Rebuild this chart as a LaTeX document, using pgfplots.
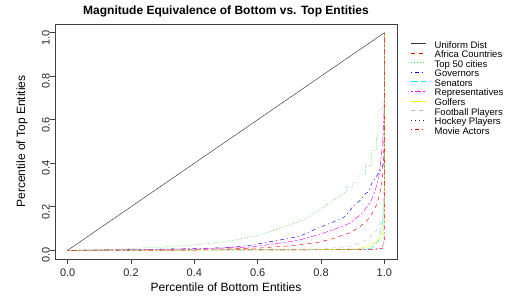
\documentclass[border=0pt]{standalone}
\usepackage{fontspec}
\setmainfont{Liberation Sans}
\usepackage{pgfplots}
\pgfplotsset{compat=1.18}
\definecolor{Rred}{HTML}{FF0000}
\definecolor{Rgreen}{HTML}{33D633}
\definecolor{Rblue}{HTML}{0000FF}
\definecolor{Rcyan}{HTML}{00FFFF}
\definecolor{Rmagenta}{HTML}{FF00FF}
\definecolor{Ryellow}{HTML}{FFFF00}
\definecolor{Rgray}{HTML}{BEBEBE}
\definecolor{Rblack}{HTML}{333333}
\begin{document}
\begin{tikzpicture}[x=1pt,y=1pt]
\path[use as bounding box] (0,0) rectangle (512,301);
\begin{axis}[
  at={(55pt,42pt)}, anchor=south west,
  scale only axis, width=342pt, height=235pt,
  xmin=-0.04, xmax=1.04, ymin=-0.04, ymax=1.04,
  axis line style={black!75, line width=0.6pt},
  xtick={0,0.2,0.4,0.6,0.8,1.0},
  ytick={0,0.2,0.4,0.6,0.8,1.0},
  xtick pos=left, ytick pos=left,
  tick align=outside,
  major tick length=5pt,
  tick style={black!75, line width=0.6pt},
  /pgf/number format/assume math mode=true,
  /pgf/number format/.cd, fixed, fixed zerofill, precision=1, /pgfplots/.cd,
  ticklabel style={font=\fontsize{11}{13}\selectfont, text=black!85},
  xticklabel style={anchor=north, inner sep=0pt, yshift=-5pt},
  yticklabel style={rotate=90, anchor=south, inner sep=0pt, xshift=-5pt},
  title={Magnitude Equivalence of Bottom vs. Top Entities},
  title style={font=\bfseries\fontsize{12}{14}\selectfont, at={(0.5,1.03)}, anchor=center, yshift=0pt},
  xlabel={Percentile of Bottom Entities},
  ylabel={Percentile of Top Entities},
  xlabel style={font=\fontsize{12}{14}\selectfont, at={(0.5,-0.119)}, anchor=center},
  ylabel style={font=\fontsize{12}{14}\selectfont, at={(-0.0965,0.5)}, anchor=center},
  legend style={at={(1.032,0.936)}, anchor=north west, draw=none, fill=none,
    font=\fontsize{9.5}{9.55}\selectfont, row sep=0pt, column sep=8pt,
    nodes={inner sep=0pt, text height=7pt, text depth=2.55pt}},
  legend cell align=left,
  legend image code/.code={\draw[#1, line width=0.55pt] (0pt,2.5pt) -- (15pt,2.5pt);},
  every axis plot/.append style={line width=0.45pt},
]
% Uniform Dist
\addplot[color=Rblack, solid] coordinates {(0,0) (1,1)};
\addlegendentry{Uniform Dist}
% Africa Countries
\addplot[color=Rred, dash pattern=on 4pt off 4pt] coordinates {
(0,0) (0.2,0.001) (0.4,0.003) (0.6,0.01) (0.7,0.02) (0.787,0.035) (0.839,0.054)
(0.89,0.08) (0.92,0.105) (0.945,0.135) (0.966,0.18) (0.977,0.215) (0.987,0.27)
(0.993,0.32) (0.998,0.45) (1,0.6) (1,1)};
\addlegendentry{Africa Countries}
% Top 50 cities
\addplot[color=Rgreen, dash pattern=on 1pt off 2pt] coordinates {
(0,0) (0.1,0.003) (0.2,0.008) (0.3,0.015) (0.4,0.025) (0.5,0.04) (0.6,0.068)
(0.7,0.115) (0.75,0.145) (0.8,0.19) (0.84,0.23) (0.86,0.25) (0.88,0.27)
(0.88,0.29) (0.9,0.29) (0.9,0.31) (0.92,0.31) (0.92,0.35) (0.94,0.35) (0.94,0.39)
(0.96,0.39) (0.96,0.46) (0.975,0.46) (0.975,0.52) (0.98,0.52) (0.98,0.64)
(0.997,0.66) (1,0.67) (1,1)};
\addlegendentry{Top 50 cities}
% Governors
\addplot[color=Rblue, dash pattern=on 1pt off 3pt on 4pt off 3pt] coordinates {
(0,0) (0.2,0.003) (0.4,0.008) (0.5,0.012) (0.576,0.023) (0.68,0.05) (0.734,0.065)
(0.787,0.1) (0.83,0.125) (0.871,0.15) (0.885,0.17) (0.9,0.2) (0.924,0.23) (0.94,0.26)
(0.95,0.27) (0.961,0.31) (0.975,0.34) (0.985,0.36) (0.998,0.40) (1,0.45) (1,1)};
\addlegendentry{Governors}
% Senators
\addplot[color=Rcyan, dash pattern=on 7pt off 3pt] coordinates {
(0,0) (0.9,0.003) (0.96,0.01) (0.98,0.04) (0.987,0.078) (0.998,0.154) (1,0.3) (1,1)};
\addlegendentry{Senators}
% Representatives
\addplot[color=Rmagenta, dash pattern=on 2pt off 2pt on 6pt off 2pt] coordinates {
(0,0) (0.2,0.002) (0.4,0.006) (0.576,0.015) (0.68,0.035) (0.734,0.048) (0.787,0.07)
(0.84,0.095) (0.892,0.125) (0.93,0.17) (0.956,0.22) (0.97,0.27) (0.982,0.33)
(0.99,0.43) (0.995,0.5) (0.998,0.6) (1,0.7) (1,1)};
\addlegendentry{Representatives}
% Golfers
\addplot[color=Ryellow, solid] coordinates {
(0,0) (0.9,0.003) (0.956,0.02) (0.98,0.045) (0.993,0.07) (0.999,0.12) (1,0.3) (1,1)};
\addlegendentry{Golfers}
% Football Players
\addplot[color=Rgray, dash pattern=on 4pt off 4pt] coordinates {
(0,0) (0.8,0.005) (0.9,0.02) (0.945,0.05) (0.97,0.08) (0.987,0.12) (0.995,0.16) (1,0.3) (1,1)};
\addlegendentry{Football Players}
% Hockey Players
\addplot[color=Rblack, dash pattern=on 1pt off 3pt] coordinates {
(0,0) (0.95,0.003) (0.99,0.01) (0.998,0.03) (1,0.2) (1,1)};
\addlegendentry{Hockey Players}
% Movie Actors
\addplot[color=Rred, dash pattern=on 1pt off 3pt on 4pt off 3pt] coordinates {
(0,0) (0.97,0.003) (0.995,0.01) (1,0.05) (1,1)};
\addlegendentry{Movie Actors}
\end{axis}
\end{tikzpicture}
\end{document}
